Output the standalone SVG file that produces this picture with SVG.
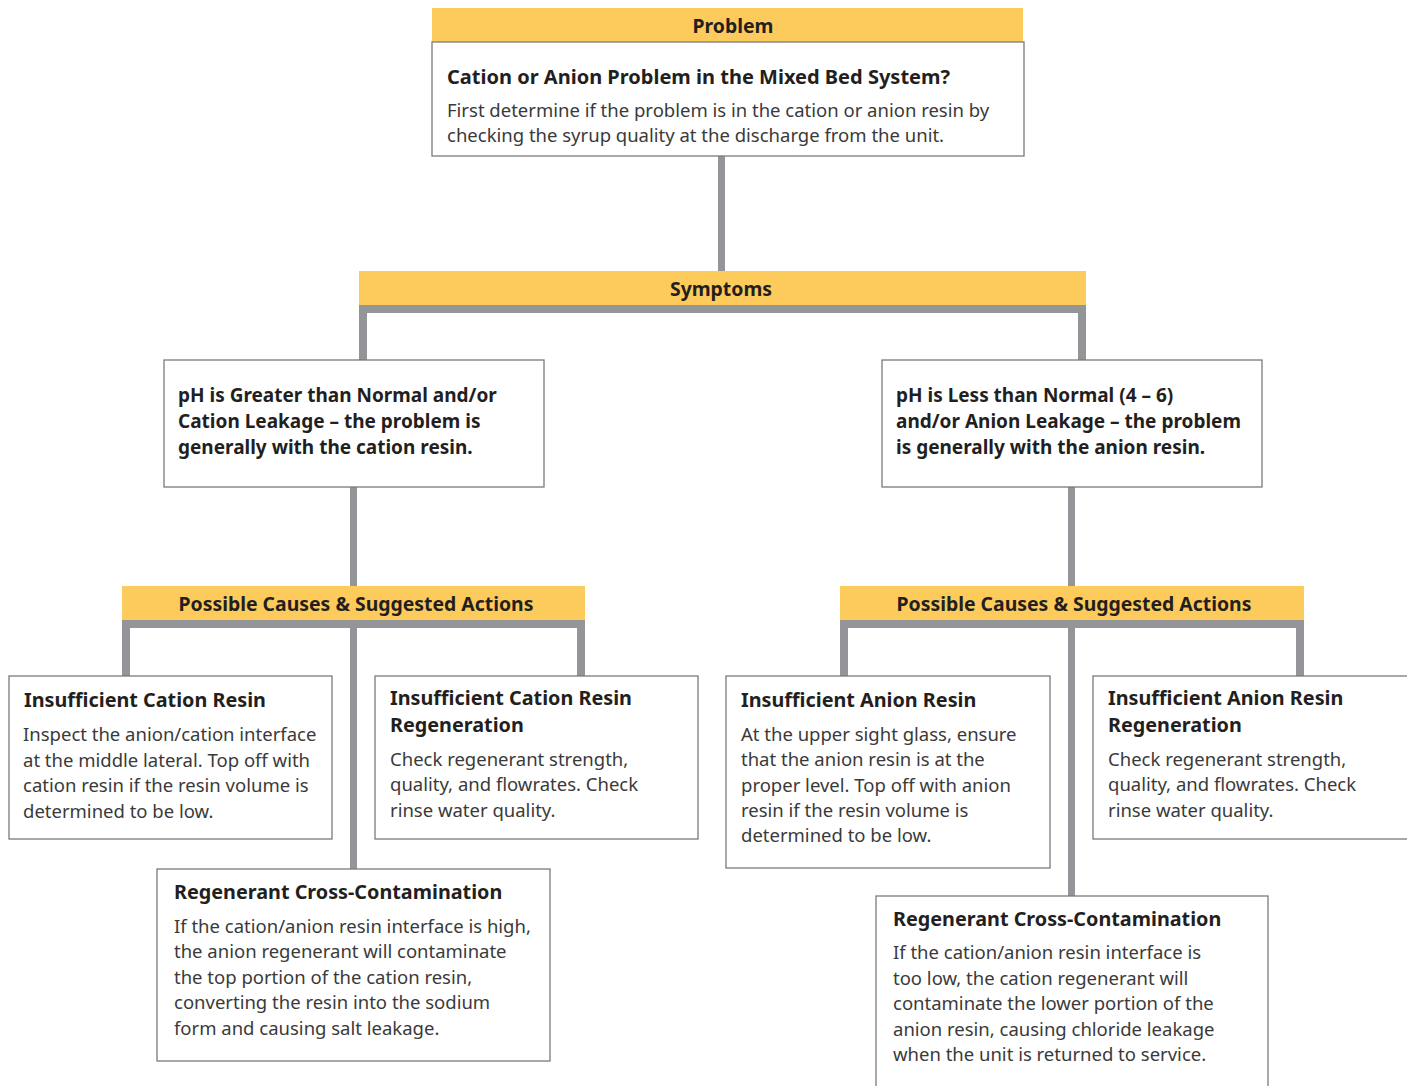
<svg xmlns="http://www.w3.org/2000/svg" width="1407" height="1086" viewBox="0 0 1407 1086">
<style>
.hdr{fill:#FDCB5B}
.box{fill:#fff;stroke:#7a7a7a;stroke-width:1.3}
.ln{fill:#939598}
.ht{font-family:"Noto Sans",sans-serif;font-weight:bold;font-size:19.4px;fill:#231f20;text-anchor:middle}
.t{font-family:"Noto Sans",sans-serif;font-weight:bold;font-size:19.8px;fill:#231f20}
.s{font-family:"Noto Sans",sans-serif;font-weight:bold;font-size:19px;fill:#231f20}
.p{font-family:"Noto Sans",sans-serif;font-weight:bold;font-size:20px;fill:#231f20}
.b{font-family:"Noto Sans",sans-serif;font-size:18.5px;fill:#3a3a3a}
</style>
<rect width="1407" height="1086" fill="#fff"/>
<g id="connectors">
<rect class="ln" x="718" y="156" width="7" height="116"/>
<rect class="ln" x="359" y="305" width="727" height="8"/>
<rect class="ln" x="359" y="305" width="8" height="55"/>
<rect class="ln" x="1078" y="305" width="8" height="55"/>
<rect class="ln" x="350" y="487" width="7" height="100"/>
<rect class="ln" x="122" y="620" width="463" height="8"/>
<rect class="ln" x="122" y="620" width="8" height="56"/>
<rect class="ln" x="577" y="620" width="8" height="56"/>
<rect class="ln" x="350" y="620" width="7" height="249"/>
<rect class="ln" x="1068" y="487" width="7" height="100"/>
<rect class="ln" x="840" y="620" width="464" height="8"/>
<rect class="ln" x="840" y="620" width="8" height="56"/>
<rect class="ln" x="1296" y="620" width="8" height="56"/>
<rect class="ln" x="1068" y="620" width="7" height="276"/>
</g>
<g id="problem">
<rect class="hdr" x="432" y="8" width="591" height="34"/>
<text class="ht" x="733" y="33">Problem</text>
<rect class="box" x="432" y="42" width="592" height="114"/>
<text class="p" x="447" y="84">Cation or Anion Problem in the Mixed Bed System?</text>
<text class="b" x="447" y="117">First determine if the problem is in the cation or anion resin by</text>
<text class="b" x="447" y="142">checking the syrup quality at the discharge from the unit.</text>
</g>
<g id="symptoms">
<rect class="hdr" x="359" y="271" width="727" height="34"/>
<text class="ht" x="721" y="296">Symptoms</text>
</g>
<g id="symptom-cation">
<rect class="box" x="164" y="360" width="380" height="127"/>
<text class="s" x="178" y="402">pH is Greater than Normal and/or</text>
<text class="s" x="178" y="428">Cation Leakage – the problem is</text>
<text class="s" x="178" y="454">generally with the cation resin.</text>
</g>
<g id="symptom-anion">
<rect class="box" x="882" y="360" width="380" height="127"/>
<text class="s" x="896" y="402">pH is Less than Normal (4 – 6)</text>
<text class="s" x="896" y="428">and/or Anion Leakage – the problem</text>
<text class="s" x="896" y="454">is generally with the anion resin.</text>
</g>
<g id="causes-cation">
<rect class="hdr" x="122" y="586" width="463" height="34"/>
<text class="ht" x="356" y="611">Possible Causes &amp; Suggested Actions</text>
</g>
<g id="causes-anion">
<rect class="hdr" x="840" y="586" width="464" height="34"/>
<text class="ht" x="1074" y="611">Possible Causes &amp; Suggested Actions</text>
</g>
<g id="insufficient-cation-resin">
<rect class="box" x="9" y="676" width="323" height="163"/>
<text class="t" x="24" y="707">Insufficient Cation Resin</text>
<text class="b" x="23" y="741">Inspect the anion/cation interface</text>
<text class="b" x="23" y="767">at the middle lateral. Top off with</text>
<text class="b" x="23" y="792">cation resin if the resin volume is</text>
<text class="b" x="23" y="818">determined to be low.</text>
</g>
<g id="insufficient-cation-regeneration">
<rect class="box" x="375" y="676" width="323" height="163"/>
<text class="t" x="390" y="705">Insufficient Cation Resin</text>
<text class="t" x="390" y="732">Regeneration</text>
<text class="b" x="390" y="766">Check regenerant strength,</text>
<text class="b" x="390" y="791">quality, and flowrates. Check</text>
<text class="b" x="390" y="817">rinse water quality.</text>
</g>
<g id="cation-cross-contamination">
<rect class="box" x="157" y="869" width="393" height="192"/>
<text class="t" x="174" y="899">Regenerant Cross-Contamination</text>
<text class="b" x="174" y="933">If the cation/anion resin interface is high,</text>
<text class="b" x="174" y="958">the anion regenerant will contaminate</text>
<text class="b" x="174" y="984">the top portion of the cation resin,</text>
<text class="b" x="174" y="1009">converting the resin into the sodium</text>
<text class="b" x="174" y="1035">form and causing salt leakage.</text>
</g>
<g id="insufficient-anion-resin">
<rect class="box" x="726" y="676" width="324" height="192"/>
<text class="t" x="741" y="707">Insufficient Anion Resin</text>
<text class="b" x="741" y="741">At the upper sight glass, ensure</text>
<text class="b" x="741" y="766">that the anion resin is at the</text>
<text class="b" x="741" y="792">proper level. Top off with anion</text>
<text class="b" x="741" y="817">resin if the resin volume is</text>
<text class="b" x="741" y="842">determined to be low.</text>
</g>
<g id="insufficient-anion-regeneration">
<rect class="box" x="1093" y="676" width="320" height="163"/>
<text class="t" x="1108" y="705">Insufficient Anion Resin</text>
<text class="t" x="1108" y="732">Regeneration</text>
<text class="b" x="1108" y="766">Check regenerant strength,</text>
<text class="b" x="1108" y="791">quality, and flowrates. Check</text>
<text class="b" x="1108" y="817">rinse water quality.</text>
</g>
<g id="anion-cross-contamination">
<rect class="box" x="876" y="896" width="392" height="196"/>
<text class="t" x="893" y="926">Regenerant Cross-Contamination</text>
<text class="b" x="893" y="959">If the cation/anion resin interface is</text>
<text class="b" x="893" y="985">too low, the cation regenerant will</text>
<text class="b" x="893" y="1010">contaminate the lower portion of the</text>
<text class="b" x="893" y="1036">anion resin, causing chloride leakage</text>
<text class="b" x="893" y="1061">when the unit is returned to service.</text>
</g>
</svg>
